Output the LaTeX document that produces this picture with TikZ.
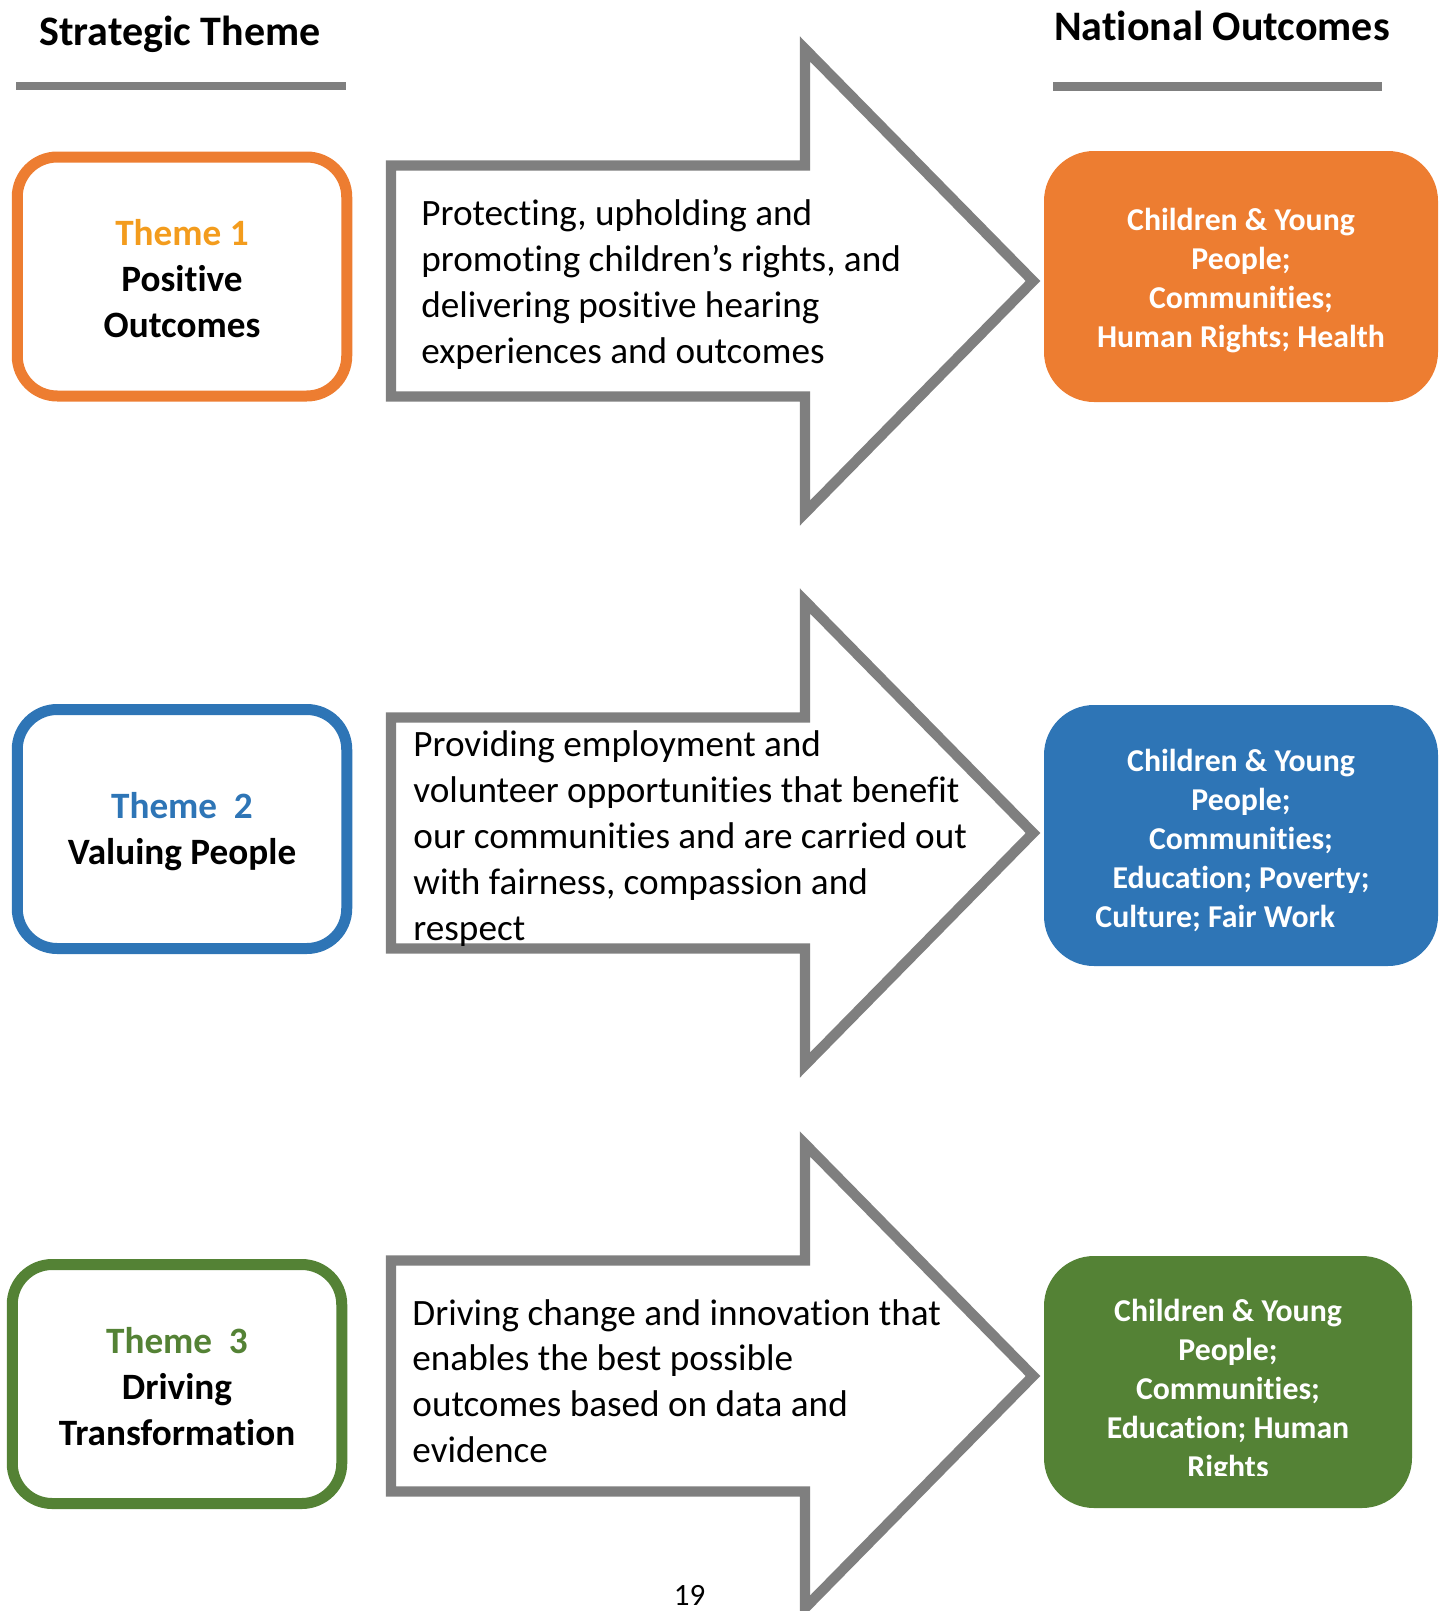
\documentclass[tikz,border=0pt]{standalone}
\usepackage{fontspec}
\setmainfont{Carlito}[RawFeature={-liga;-clig;-rlig;-calt;-dlig}]
\definecolor{rulegray}{HTML}{7F7F7F}
\definecolor{outorange}{HTML}{ED7D31}
\definecolor{outblue}{HTML}{2E75B6}
\definecolor{outgreen}{HTML}{548235}
\definecolor{themeorange}{HTML}{F39C1D}
\tikzset{
  themebox/.style={draw=#1, line width=5.5pt, rounded corners=20pt, minimum width=164.75pt,
    minimum height=119.5pt, inner sep=0pt},
  themetext/.style={align=center, inner sep=0pt, font=\fontsize{18.6}{23}\selectfont\bfseries},
  outbox/.style={fill=#1, rounded corners=25pt, inner sep=0pt},
  outtext/.style={text=white, align=center, inner sep=0pt, font=\fontsize{15.9}{19.5}\selectfont\bfseries},
  arrowtext/.style={anchor=west, align=left, inner sep=0pt, font=\fontsize{18.6}{22.9}\selectfont},
  heading/.style={anchor=base, font=\fontsize{21}{25}\selectfont\bfseries}
}
\begin{document}
\begin{tikzpicture}[x=0.5pt, y=-0.5pt, line join=miter]
\useasboundingbox (0,0) rectangle (1449,1611);
\clip (0,0) rectangle (1449,1611);
% headings
\node[heading] (hleft) at (180,46) {Strategic Theme};
\node[heading] (hright) at (1222,41) {National Outcomes};
\draw[rulegray, line width=4pt] (16,86) -- (346,86);
\draw[rulegray, line width=4.5pt] (1053,87) -- (1382,87);
% big arrows
\def\xl{391} \def\xn{805} \def\xt{1033} \def\hb{115.5} \def\hh{232}
\foreach \cy in {281,833,1376}
  \draw[rulegray, line width=5.2pt, fill=white] (\xl,\cy-\hb) -- (\xn,\cy-\hb) -- (\xn,\cy-\hh)
    -- (\xt,\cy) -- (\xn,\cy+\hh) -- (\xn,\cy+\hb) -- (\xl,\cy+\hb) -- cycle;
% themes
\node[themebox=outorange] (t1) at (182,276.5) {};
\node[themebox=outblue] (t2) at (182,829) {};
\node[themebox=outgreen] (t3) at (177,1384) {};
\node[themetext] (t1txt) at (182,279) {\textcolor{themeorange}{Theme 1}\\Positive\\Outcomes};
\node[themetext] (t2txt) at (182,832) {\textcolor{outblue}{Theme~~2}\\Valuing People};
\node[themetext] (t3txt) at (177,1387) {\textcolor{outgreen}{Theme~~3}\\Driving\\Transformation};
% arrow texts
\node[arrowtext] (a1) at (421,284.6) {Protecting, upholding and\\promoting children’s rights, and\\delivering positive hearing\\experiences and outcomes};
\node[arrowtext] (a2) at (413,838.5) {Providing employment and\\volunteer opportunities that benefit\\our communities and are carried out\\with fairness, compassion and\\respect};
\node[arrowtext] (a3) at (412,1381) {Driving change and innovation that\\enables the best possible\\outcomes based on data and\\evidence};
% national outcomes
\node[outbox=outorange, minimum width=197pt, minimum height=125.5pt] (o1) at (1241,276.5) {};
\node[outbox=outblue, minimum width=197pt, minimum height=130.5pt] (o2) at (1241,835.5) {};
\node[outbox=outgreen, minimum width=184pt, minimum height=126pt] (o3) at (1228,1382) {};
\node[outtext] (o1txt) at (1241,280.5) {Children \& Young\\People;\\Communities;\\Human Rights; Health};
\node[outtext] (o2txt) at (1241,840.5) {Children \& Young\\People;\\Communities;\\Education; Poverty;\\Culture; Fair Work\hspace*{25.7pt}};
\begin{scope}
\clip (1044,1256) rectangle (1412,1475);
\node[outtext] (o3txt) at (1228,1391) {Children \& Young\\People;\\Communities;\\Education; Human\\Rights};
\end{scope}
% page number
\node[anchor=base, font=\fontsize{15.5}{18}\selectfont] (pg) at (689.6,1605) {19};
\end{tikzpicture}
\end{document}
